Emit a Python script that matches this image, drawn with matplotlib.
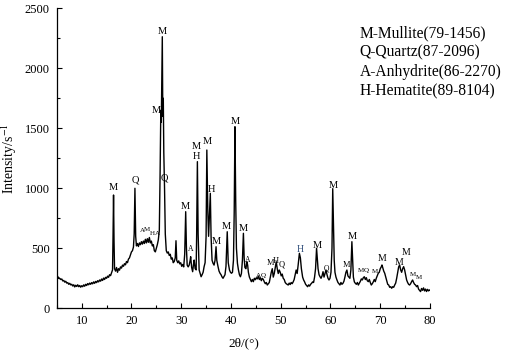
import numpy as np
import matplotlib.pyplot as plt
from matplotlib.ticker import MultipleLocator

# XRD trace (2theta in degrees, intensity in counts/s)
two_theta = [
    5.0, 5.2, 5.4, 5.6, 5.8, 6.0, 6.2, 6.4, 6.6, 6.8, 7.0, 7.2, 7.4, 7.6, 7.8,
    8.0, 8.2, 8.4, 8.6, 8.8, 9.0, 9.2, 9.4, 9.6, 9.8, 10.0, 10.2, 10.4, 10.6, 10.8,
    11.0, 11.2, 11.4, 11.6, 11.8, 12.0, 12.2, 12.4, 12.6, 12.8, 13.0, 13.2, 13.4, 13.6, 13.8,
    14.0, 14.2, 14.4, 14.6, 14.8, 15.0, 15.2, 15.4, 15.6, 15.8, 16.0, 16.2, 16.3, 16.4, 16.5,
    16.6, 16.8, 17.0, 17.2, 17.4, 17.6, 17.8, 18.0, 18.2, 18.4, 18.6, 18.8, 19.0, 19.2, 19.4,
    19.6, 19.8, 20.0, 20.2, 20.4, 20.55, 20.7, 20.85, 21.0, 21.2, 21.4, 21.6, 21.8, 22.0, 22.2,
    22.4, 22.6, 22.8, 23.0, 23.2, 23.4, 23.6, 23.8, 24.0, 24.2, 24.4, 24.6, 24.8, 25.0, 25.2,
    25.4, 25.6, 25.75, 25.9, 26.0, 26.1, 26.2, 26.3, 26.4, 26.5, 26.65, 26.8, 27.0, 27.2, 27.4,
    27.6, 27.8, 28.0, 28.2, 28.4, 28.6, 28.8, 28.95, 29.1, 29.3, 29.5, 29.7, 29.9, 30.1, 30.3,
    30.5, 30.7, 30.9, 31.05, 31.2, 31.4, 31.6, 31.8, 31.9, 32.1, 32.3, 32.45, 32.6, 32.8, 33.0,
    33.1, 33.25, 33.4, 33.6, 33.8, 34.0, 34.2, 34.4, 34.6, 34.8, 35.0, 35.15, 35.35, 35.5, 35.65,
    35.85, 36.0, 36.2, 36.4, 36.6, 36.8, 37.0, 37.15, 37.4, 37.6, 37.8, 38.0, 38.2, 38.4, 38.6,
    38.8, 39.0, 39.25, 39.45, 39.7, 39.9, 40.1, 40.3, 40.5, 40.65, 40.8, 40.95, 41.1, 41.3, 41.5,
    41.7, 41.9, 42.1, 42.3, 42.5, 42.65, 42.8, 43.0, 43.2, 43.35, 43.5, 43.7, 43.9, 44.1, 44.3,
    44.5, 44.7, 44.9, 45.1, 45.3, 45.5, 45.7, 45.9, 46.1, 46.3, 46.5, 46.7, 46.9, 47.1, 47.3,
    47.5, 47.7, 47.9, 48.1, 48.3, 48.5, 48.7, 48.9, 49.1, 49.3, 49.5, 49.7, 49.9, 50.1, 50.3,
    50.5, 50.7, 50.9, 51.1, 51.3, 51.5, 51.7, 51.9, 52.1, 52.3, 52.5, 52.7, 52.9, 53.1, 53.3,
    53.5, 53.75, 53.95, 54.15, 54.4, 54.6, 54.8, 55.0, 55.2, 55.4, 55.6, 55.8, 56.0, 56.2, 56.4,
    56.6, 56.8, 57.0, 57.2, 57.35, 57.5, 57.7, 57.9, 58.1, 58.3, 58.5, 58.7, 58.9, 59.1, 59.3,
    59.5, 59.7, 59.9, 60.1, 60.3, 60.45, 60.6, 60.75, 60.9, 61.1, 61.3, 61.5, 61.7, 61.9, 62.1,
    62.3, 62.5, 62.7, 62.9, 63.1, 63.3, 63.5, 63.7, 63.9, 64.1, 64.3, 64.45, 64.6, 64.8, 65.0,
    65.2, 65.4, 65.6, 65.8, 66.0, 66.2, 66.4, 66.6, 66.8, 67.0, 67.2, 67.4, 67.6, 67.8, 68.0,
    68.2, 68.4, 68.6, 68.8, 69.0, 69.2, 69.4, 69.6, 69.8, 70.0, 70.2, 70.35, 70.5, 70.7, 70.9,
    71.1, 71.3, 71.5, 71.7, 71.9, 72.1, 72.3, 72.5, 72.7, 72.9, 73.1, 73.3, 73.5, 73.7, 73.9,
    74.1, 74.3, 74.5, 74.7, 74.9, 75.1, 75.3, 75.5, 75.7, 75.9, 76.1, 76.3, 76.5, 76.7, 76.9,
    77.1, 77.3, 77.5, 77.7, 77.9, 78.1, 78.3, 78.5, 78.7, 78.9, 79.1, 79.3, 79.5, 79.7, 79.9,
    80.0,
]
intensity = [
    277, 262, 255, 248, 240, 244, 228, 232, 218, 225, 210, 214, 200, 208, 195,
    200, 186, 196, 178, 192, 182, 196, 180, 190, 176, 188, 180, 195, 184, 200,
    190, 206, 196, 210, 200, 214, 204, 220, 208, 224, 214, 230, 220, 236, 226,
    244, 232, 252, 240, 258, 250, 268, 258, 280, 272, 295, 320, 600, 944, 560,
    330, 310, 340, 300, 330, 318, 345, 335, 360, 350, 372, 362, 390, 380, 410,
    420, 445, 470, 480, 510, 620, 1000, 600, 520, 540, 515, 545, 530, 555, 535,
    560, 540, 575, 545, 580, 550, 590, 545, 560, 520, 530, 480, 470, 500, 530,
    570, 650, 1100, 1650, 1550, 1900, 2263, 1600, 1750, 1300, 1000, 620, 480, 460, 470,
    440, 450, 410, 420, 380, 390, 420, 563, 400, 380, 395, 370, 380, 350, 365,
    345, 450, 805, 500, 360, 345, 360, 400, 430, 340, 305, 360, 402, 330, 320,
    600, 1222, 620, 320, 290, 263, 280, 300, 347, 380, 600, 1319, 800, 600, 763,
    958, 600, 400, 375, 360, 400, 513, 400, 347, 310, 292, 280, 262, 250, 265,
    280, 350, 638, 380, 319, 300, 292, 300, 400, 800, 1513, 900, 500, 375, 320,
    280, 263, 290, 400, 625, 420, 340, 330, 388, 360, 300, 260, 240, 222, 240,
    222, 250, 238, 255, 245, 268, 240, 255, 230, 250, 240, 220, 205, 215, 194,
    205, 215, 260, 300, 330, 260, 290, 340, 388, 330, 290, 319, 300, 270, 285,
    250, 240, 215, 205, 200, 194, 210, 198, 215, 205, 220, 240, 280, 319, 290,
    360, 458, 420, 330, 260, 236, 220, 200, 190, 180, 195, 185, 200, 208, 220,
    215, 260, 330, 500, 420, 330, 280, 263, 250, 270, 305, 260, 290, 319, 280,
    250, 236, 250, 300, 500, 997, 700, 400, 300, 260, 236, 215, 205, 194, 215,
    200, 208, 225, 260, 300, 319, 270, 260, 250, 320, 555, 400, 260, 220, 208,
    200, 215, 194, 210, 225, 245, 236, 255, 263, 240, 255, 230, 222, 240, 215,
    194, 205, 220, 240, 222, 250, 270, 292, 300, 330, 345, 361, 340, 310, 292,
    260, 230, 200, 194, 175, 180, 167, 180, 175, 194, 210, 250, 300, 345, 361,
    320, 300, 330, 347, 320, 280, 236, 215, 200, 194, 205, 222, 236, 215, 200,
    194, 180, 190, 160, 150, 139, 165, 150, 170, 145, 160, 140, 158, 145, 153,
    150,
]

# phase markers: position, height, letter, size
label_x = [16.35, 20.7, 24.9, 26.2, 26.6, 30.9, 33.1, 33.1, 35.25, 36.0, 37.1, 39.1, 40.8, 42.5,
           22.2, 23.2, 24.1, 25.2, 31.9, 43.4, 45.5, 46.4, 48.0, 49.1, 50.2, 53.9, 57.4, 59.2,
           60.6, 63.3, 64.4, 66.1, 67.1, 68.9, 70.4, 73.8, 75.1, 76.5, 77.7]
label_y = [1005, 1069, 1650, 2305, 1083, 847, 1347, 1263, 1388, 986, 555, 680, 1555, 667,
           652, 658, 625, 625, 492, 403, 275, 275, 375, 397, 367, 494, 527, 333,
           1027, 361, 602, 319, 319, 305, 417, 385, 462, 278, 258]
label_txt = ['M', 'Q', 'M', 'M', 'Q', 'M', 'M', 'H', 'M', 'H', 'M', 'M', 'M', 'M',
             'A', 'M', 'H', 'A', 'A', 'A', 'A', 'Q', 'M', 'H', 'Q', 'H', 'M', 'Q',
             'M', 'M', 'M', 'M', 'Q', 'M', 'M', 'M', 'M', 'M', 'M']
label_size = [7.5, 7.5, 7.5, 7.5, 7.5, 7.5, 7.5, 7.5, 7.5, 7.5, 7.5, 7.5, 7.5, 7.5,
              5, 5, 5, 5, 5.5, 5.5, 5, 5, 6, 6, 6, 7, 7.5, 5.5,
              7.5, 6, 7.5, 5, 5, 5, 7, 7, 7, 5, 5]

legend_lines = ['M-Mullite(79-1456)', 'Q-Quartz(87-2096)',
                'A-Anhydrite(86-2270)', 'H-Hematite(89-8104)']

plt.rcParams['font.family'] = ['Liberation Serif', 'DejaVu Serif']
plt.rcParams['mathtext.fontset'] = 'stix'

fig = plt.figure(figsize=(5.05, 3.54), dpi=100)
ax = fig.add_axes([0.1125, 0.1291, 0.739, 0.8475])

ax.plot(two_theta, intensity, color='black', lw=1.0)

for x, y, t, s in zip(label_x, label_y, label_txt, label_size):
    c = '#2b4a78' if (t == 'H' and x == 53.9) else 'black'
    ax.text(x, y, t, fontsize=s, ha='center', va='center', color=c)

fig.text(0.712, 0.928, '\n'.join(legend_lines),
         fontsize=11.2, va='top', ha='left', linespacing=1.28)

ax.set_xlim(5, 80)
ax.set_ylim(0, 2500)
ax.xaxis.set_major_locator(MultipleLocator(10))
ax.xaxis.set_minor_locator(MultipleLocator(5))
ax.yaxis.set_major_locator(MultipleLocator(500))
ax.yaxis.set_minor_locator(MultipleLocator(250))
ax.tick_params(which='both', direction='in', labelsize=9, width=0.8)
ax.tick_params(which='major', length=3.5, pad=5)
ax.tick_params(which='minor', length=2)
ax.spines['top'].set_visible(False)
ax.spines['right'].set_visible(False)
for s in ['left', 'bottom']:
    ax.spines[s].set_linewidth(0.9)

ax.set_xlabel('2θ/(°)', fontsize=9.5, labelpad=7)
ax.set_ylabel('Intensity/s$^{-1}$', fontsize=10, labelpad=4)

fig.savefig('out.png', dpi=100)
